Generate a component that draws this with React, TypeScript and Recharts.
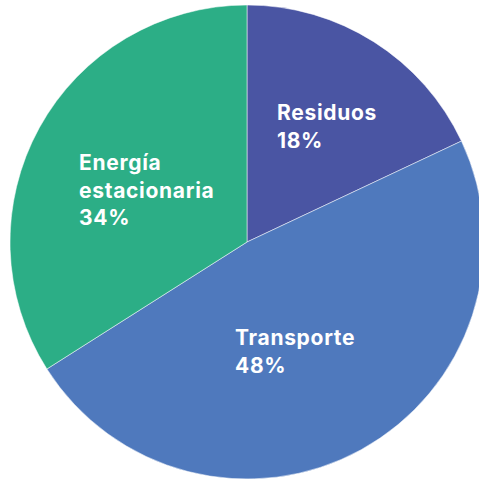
import React from "react";
import { PieChart, Pie, Cell } from "recharts";

const categories = ["Residuos", "Transporte", "Energía estacionaria"];
const labelLines = [["Residuos"], ["Transporte"], ["Energía", "estacionaria"]];
const values = [18, 48, 34];
const colors = ["#4A55A3", "#4F79BD", "#2CAE86"];

const data = categories.map((name, i) => ({ name, value: values[i], lines: labelLines[i] }));

// label anchor offsets (relative to pie center), for left-aligned text blocks
const labelOffsets = [
  { dx: 30, dy: -122 },
  { dx: -12, dy: 103 },
  { dx: -168, dy: -72 },
];

const LINE_H = 27.5;

const renderLabel = (props: any) => {
  const { cx, cy, index, value } = props;
  const off = labelOffsets[index];
  const lines: string[] = [...data[index].lines, `${value}%`];
  const x = cx + off.dx;
  const y = cy + off.dy;
  return (
    <text
      x={x}
      y={y}
      fill="#ffffff"
      textAnchor="start"
      fontFamily="Inter, 'Noto Sans', sans-serif"
      fontWeight={700}
      fontSize={21}
      letterSpacing={0.7}
    >
      {lines.map((l, i) => (
        <tspan key={i} x={x} dy={i === 0 ? 0 : LINE_H}>
          {l}
        </tspan>
      ))}
    </text>
  );
};

export default function App() {
  return (
    <div style={{ position: "absolute", left: 0, top: 0, width: 479, height: 479, overflow: "hidden", background: "#fff" }}>
      <PieChart width={479} height={479} margin={{ top: 0, right: 0, bottom: 0, left: 0 }}>
        <Pie
          data={data}
          dataKey="value"
          nameKey="name"
          cx={247}
          cy={242}
          outerRadius={237}
          startAngle={90}
          endAngle={-270}
          stroke="rgba(255,255,255,0.5)"
          strokeWidth={1}
          label={renderLabel}
          labelLine={false}
          isAnimationActive={false}
        >
          {data.map((d, i) => (
            <Cell key={d.name} fill={colors[i]} />
          ))}
        </Pie>
      </PieChart>
    </div>
  );
}
